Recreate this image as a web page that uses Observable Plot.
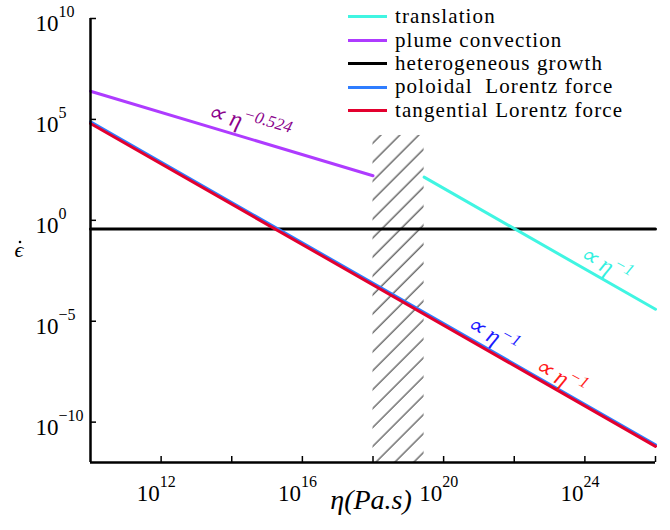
<!DOCTYPE html>
<html><head><meta charset="utf-8">
<script src="https://cdn.jsdelivr.net/npm/d3@7"></script>
<script src="https://cdn.jsdelivr.net/npm/@observablehq/plot@0.6"></script>
<style>
body{margin:0;background:#fff;}
#wrap{position:relative;width:670px;height:530px;}
#legend{position:absolute;left:348px;top:5.3px;font-family:"Liberation Serif","Times New Roman",serif;font-size:21px;letter-spacing:1.1px;color:#000;}
.row{height:23.4px;line-height:23.4px;display:flex;align-items:center;white-space:pre;}
.sw{width:39px;height:3px;margin-right:8px;flex:none;}
</style></head><body><div id="wrap"><div id="legend"></div></div>
<script>
// ---- data ----
const seriesNames = ["translation", "plume convection", "heterogeneous growth", "poloidal  Lorentz force", "tangential Lorentz force"];
const seriesColors = ["#40F5E2", "#AE3BFF", "#000000", "#2F7DFF", "#E3002E"];
const etaTranslation = [2.8e19, 1e26];
const rateTranslation = [138, 3.9e-5];
const etaPlume = [1e10, 1e18];
const ratePlume = [2.5e6, 162];
const etaGrowth = [1e10, 1e26];
const rateGrowth = [0.37, 0.37];
const etaPoloidal = [1e10, 1e26];
const ratePoloidal = [7.6e4, 7.6e-12];
const etaTangential = [1e10, 1e26];
const rateTangential = [6.3e4, 6.3e-12];
const hatchEta = [1e18, 2.8e19];
const hatchRate = [1e-12, 1.6e4];
const xTickValues = [1e12, 1e14, 1e16, 1e18, 1e20, 1e22, 1e24, 1e26];
const xLabelValues = [1e12, 1e16, 1e20, 1e24];
const xLabelTexts = ["10^12", "10^16", "10^20", "10^24"];
const yTickValues = [1e-10, 1e-5, 1, 1e5, 1e10];
const yLabelTexts = ["10^−10", "10^−5", "10^0", "10^5", "10^10"];
const noteTexts = ["∝ η^−0.524", "∝ η^−1", "∝ η^−1", "∝ η^−1"];
const noteEta = [2.2e13, 8.1e23, 5.1e20, 4.3e22];
const noteRate = [2.6e5, 2.9e-2, 9.5e-6, 7.8e-8];
const noteColors = ["#8B008B", "#33F0E0", "#1A1AFF", "#FF1A1A"];
const noteAngles = [16.6, 29.7, 29.7, 29.7];
const xTitle = "η(Pa.s)";
const yTitle = "ϵ";

// ---- tables ----
const FONT = '"Liberation Serif", "Times New Roman", serif';
const seriesEta = [etaTranslation, etaPlume, etaGrowth, etaPoloidal, etaTangential];
const seriesRate = [rateTranslation, ratePlume, rateGrowth, ratePoloidal, rateTangential];
const drawOrder = [2, 1, 0, 3, 4];
const lineMarks = drawOrder.map(k => Plot.line(
  seriesEta[k].map((e, i) => ({eta: e, rate: seriesRate[k][i]})),
  {x: "eta", y: "rate", stroke: seriesColors[k], strokeWidth: 3}
));
const hatch = [{x1: hatchEta[0], x2: hatchEta[1], y1: hatchRate[0], y2: hatchRate[1]}];
const notes = noteTexts.map((t, i) => ({t, eta: noteEta[i], rate: noteRate[i], c: noteColors[i], a: noteAngles[i]}));

const svg = Plot.plot({
  width: 670, height: 530,
  marginLeft: 90, marginRight: 15, marginTop: 18, marginBottom: 68,
  style: {fontFamily: FONT, background: "white", overflow: "visible", color: "#000"},
  x: {type: "log", domain: [1e10, 1e26], label: null},
  y: {type: "log", domain: [1e-12, 1e10], label: null},
  marks: [
    Plot.rect(hatch, {x1: "x1", x2: "x2", y1: "y1", y2: "y2", fill: "url(#hatch)"}),
    ...lineMarks,
    Plot.text(notes, {x: "eta", y: "rate", text: "t", fill: "c", rotate: "a", textAnchor: "start",
      fontSize: 24, fontStyle: "italic"}),
    Plot.ruleX([1e10], {stroke: "#000", strokeWidth: 2.5}),
    Plot.ruleY([1e-12], {stroke: "#000", strokeWidth: 2.5}),
    Plot.axisX(xTickValues, {tickSize: 6, dy: -6, tickFormat: () => "", strokeWidth: 1.5, label: null}),
    Plot.axisY(yTickValues, {tickSize: 6, dx: 6, tickFormat: () => "", strokeWidth: 1.5, label: null}),
    Plot.axisX(xLabelValues, {tickSize: 0, tickPadding: 0, dy: 22, dx: -5, fontSize: 23,
      tickFormat: d => xLabelTexts[xLabelValues.indexOf(d)], label: null}),
    Plot.axisY(yTickValues, {tickSize: 0, tickPadding: 0, dx: -55, dy: 5, textAnchor: "start", fontSize: 23,
      tickFormat: d => yLabelTexts[yTickValues.indexOf(d)], label: null}),
    Plot.text([xTitle], {frameAnchor: "bottom", dx: -2, dy: 46, fontSize: 28, fontStyle: "italic"}),
    Plot.text([yTitle], {frameAnchor: "left", dx: -76, dy: 9, textAnchor: "start", fontSize: 22, fontStyle: "italic"}),
    Plot.dot([yTitle], {frameAnchor: "left", dx: -70.5, dy: 1.5, r: 1.3, fill: "#000", stroke: "none"})
  ]
});

const ns = "http://www.w3.org/2000/svg";
const defs = document.createElementNS(ns, "defs");
defs.innerHTML = '<pattern id="hatch" width="13.4" height="13.4" patternUnits="userSpaceOnUse" patternTransform="rotate(45)"><line x1="3" y1="0" x2="3" y2="13.4" stroke="#222" stroke-width="1"/></pattern>';
svg.insertBefore(defs, svg.firstChild);

function tsp(txt, attrs) {
  const t = document.createElementNS(ns, "tspan");
  t.textContent = txt;
  for (const k in attrs) t.setAttribute(k, attrs[k]);
  return t;
}
function supify(el, expSize, rise) {
  const s = el.textContent;
  const i = s.indexOf("^");
  if (i < 0) return;
  el.textContent = "";
  el.append(tsp(s.slice(0, i), {}), tsp(s.slice(i + 1), {dy: -rise, "font-size": expSize}));
}
svg.querySelectorAll("text").forEach(el => {
  const s = el.textContent;
  if (!s.includes("^")) return;
  const tr = el.getAttribute("transform") || "";
  if (tr.includes("rotate")) supify(el, 17, 10);
  else supify(el, 16, 14);
});

const wrap = document.getElementById("wrap");
const legend = document.getElementById("legend");
wrap.insertBefore(svg, legend);
seriesNames.forEach((n, i) => {
  const row = document.createElement("div");
  row.className = "row";
  const sw = document.createElement("span");
  sw.className = "sw";
  sw.style.background = seriesColors[i];
  const tx = document.createElement("span");
  tx.textContent = n;
  row.append(sw, tx);
  legend.append(row);
});
</script></body></html>
